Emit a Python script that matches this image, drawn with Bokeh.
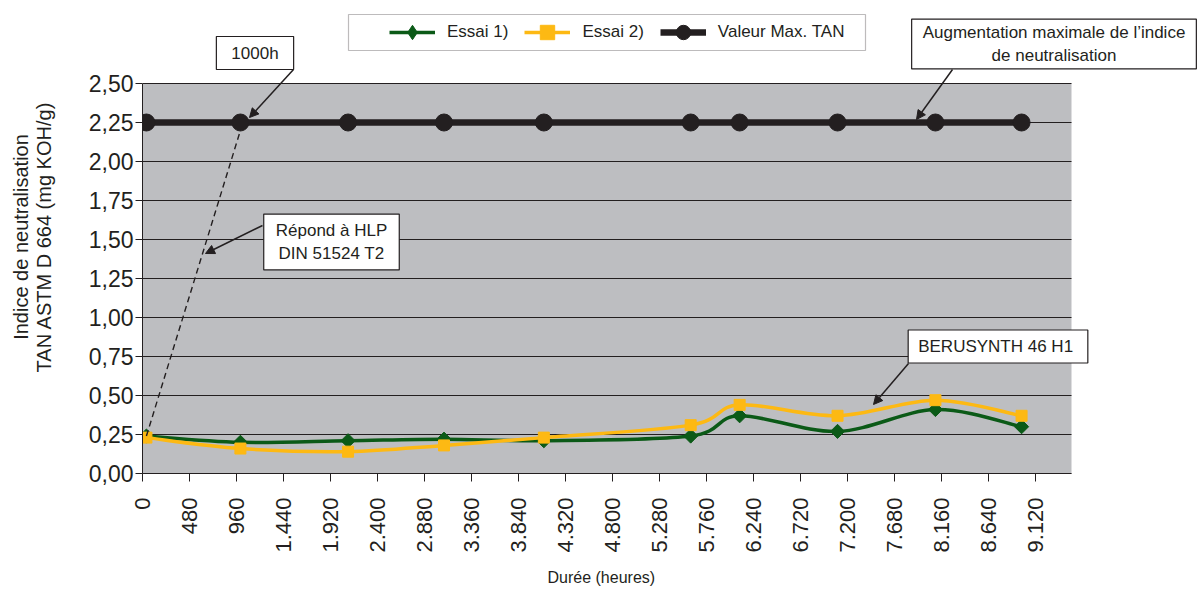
import math
from bokeh.plotting import figure
from bokeh.models import (ColumnDataSource, FixedTicker, Legend, LegendItem, Label,
                          Arrow, NormalHead, BoxAnnotation, Range1d, Title)
from bokeh.embed import file_html
from bokeh.resources import INLINE

# ---------------- data ----------------
HOURS = [40, 1000, 2100, 3080, 4100, 5600, 6100, 7100, 8100, 8980]
ESSAI_1 = [0.24, 0.20, 0.21, 0.22, 0.21, 0.24, 0.37, 0.27, 0.41, 0.30]
ESSAI_2 = [0.23, 0.16, 0.14, 0.18, 0.23, 0.31, 0.44, 0.37, 0.47, 0.37]
VALEUR_MAX = [2.25, 2.25, 2.25, 2.25, 2.25, 2.25, 2.25, 2.25, 2.25, 2.25]

SERIES_NAMES = ["Essai 1)", "Essai 2)", "Valeur Max. TAN"]

X_TICKS = [0, 480, 960, 1440, 1920, 2400, 2880, 3360, 3840, 4320, 4800,
           5280, 5760, 6240, 6720, 7200, 7680, 8160, 8640, 9120]
X_TICK_LABELS = ["0", "480", "960", "1.440", "1.920", "2.400", "2.880", "3.360",
                 "3.840", "4.320", "4.800", "5.280", "5.760", "6.240", "6.720",
                 "7.200", "7.680", "8.160", "8.640", "9.120"]
Y_TICKS = [0.0, 0.25, 0.5, 0.75, 1.0, 1.25, 1.5, 1.75, 2.0, 2.25, 2.5]
Y_TICK_LABELS = ["0,00", "0,25", "0,50", "0,75", "1,00", "1,25", "1,50",
                 "1,75", "2,00", "2,25", "2,50"]
X_AXIS_MAX = 9490
Y_AXIS_MAX = 2.5

# ---------------- layout constants ----------------
W, H = 1200, 596
FL = 142          # frame left (px)
FB = 473          # frame bottom (px)
PLOT_W = 929      # grey plot area width (px)
PLOT_H = 390      # grey plot area height (px)
PX_X = PLOT_W / X_AXIS_MAX
PX_Y = PLOT_H / Y_AXIS_MAX

INK = "#231F20"
GREEN = "#0B5A17"
YELLOW = "#FDB913"
PLOT_BG = "#BDBEC1"
FONT = "Liberation Sans"


def dx(px):
    return (px - FL) / PX_X


def dy(py):
    return (FB - py) / PX_Y


def smooth(xs, ys, t=1.0 / 6.0):
    n = len(xs)
    d = dict(x0=[], y0=[], x1=[], y1=[], cx0=[], cy0=[], cx1=[], cy1=[])
    for i in range(n - 1):
        xp, yp = (xs[i - 1], ys[i - 1]) if i > 0 else (xs[i], ys[i])
        xn, yn = (xs[i + 2], ys[i + 2]) if i + 2 < n else (xs[i + 1], ys[i + 1])
        d["x0"].append(xs[i]); d["y0"].append(ys[i])
        d["x1"].append(xs[i + 1]); d["y1"].append(ys[i + 1])
        d["cx0"].append(xs[i] + (xs[i + 1] - xp) * t)
        d["cy0"].append(ys[i] + (ys[i + 1] - yp) * t)
        d["cx1"].append(xs[i + 1] - (xn - xs[i]) * t)
        d["cy1"].append(ys[i + 1] - (yn - ys[i]) * t)
    return ColumnDataSource(d)


p = figure(width=W, height=H, output_backend="svg", toolbar_location=None,
           x_range=Range1d(0, (W - FL) / PX_X), y_range=Range1d(0, FB / PX_Y),
           min_border_left=FL, min_border_top=0,
           min_border_right=0, min_border_bottom=H - FB)
p.background_fill_color = "white"
p.border_fill_color = "white"
p.outline_line_color = None
p.xgrid.grid_line_color = None
p.ygrid.grid_line_color = None

# grey plot area
p.add_layout(BoxAnnotation(left=0, right=X_AXIS_MAX, bottom=0, top=Y_AXIS_MAX,
                           fill_color=PLOT_BG, fill_alpha=1.0, line_color=None,
                           level="underlay"))
# horizontal grid lines
p.segment(x0=[0] * len(Y_TICKS), x1=[X_AXIS_MAX] * len(Y_TICKS),
          y0=Y_TICKS, y1=Y_TICKS, line_color=INK, line_width=1)

# axes
p.xaxis.ticker = FixedTicker(ticks=X_TICKS)
p.xaxis.major_label_overrides = dict(zip(X_TICKS, X_TICK_LABELS))
p.xaxis.major_label_orientation = math.pi / 2
p.xaxis.bounds = (0, X_AXIS_MAX)
p.yaxis.ticker = FixedTicker(ticks=Y_TICKS)
p.yaxis.major_label_overrides = dict(zip(Y_TICKS, Y_TICK_LABELS))
p.yaxis.bounds = (0, Y_AXIS_MAX)
for ax in (p.xaxis, p.yaxis):
    ax.axis_line_color = INK
    ax.axis_line_width = 1
    ax.major_tick_line_color = INK
    ax.major_tick_in = 0
    ax.minor_tick_line_color = None
    ax.major_label_text_font = FONT
    ax.major_label_text_color = INK
    ax.axis_label_text_font = FONT
    ax.axis_label_text_font_style = "normal"
    ax.axis_label_text_color = INK
p.xaxis.major_tick_out = 8
p.yaxis.major_tick_out = 7
p.xaxis.major_label_text_font_size = "22px"
p.yaxis.major_label_text_font_size = "23px"
p.xaxis.major_label_standoff = 16
p.yaxis.major_label_standoff = 2
p.yaxis.axis_label = "Indice de neutralisation\nTAN ASTM D 664 (mg KOH/g)"
p.yaxis.axis_label_text_font_size = "20px"
p.yaxis.axis_label_text_line_height = 1.05
p.yaxis.axis_label_standoff = 31

# x-axis title, centred under the grey plot area
p.add_layout(Title(text="Durée (heures)", align="left", offset=547 - FL,
                   standoff=22, vertical_align="bottom", text_font=FONT,
                   text_font_size="16px", text_font_style="normal",
                   text_color=INK), "below")

# series
black_line = p.line(HOURS, VALEUR_MAX, line_color=INK, line_width=6.5)
black_pts = p.scatter(HOURS, VALEUR_MAX, marker="circle", size=17,
                      fill_color=INK, line_color=INK)

g_line = p.bezier(x0="x0", y0="y0", x1="x1", y1="y1", cx0="cx0", cy0="cy0",
                  cx1="cx1", cy1="cy1", source=smooth(HOURS, ESSAI_1),
                  line_color=GREEN, line_width=3.5)
g_pts = p.scatter(HOURS, ESSAI_1, marker="square", angle=math.pi / 4, size=10,
                  fill_color=GREEN, line_color=GREEN)
# legend-only diamond (legend markers are drawn unrotated)
g_key = p.scatter(HOURS[:1], ESSAI_1[:1], marker="diamond", size=14,
                  fill_color=GREEN, line_color=GREEN, visible=False)

y_line = p.bezier(x0="x0", y0="y0", x1="x1", y1="y1", cx0="cx0", cy0="cy0",
                  cx1="cx1", cy1="cy1", source=smooth(HOURS, ESSAI_2),
                  line_color=YELLOW, line_width=3.5)
y_pts = p.scatter(HOURS, ESSAI_2, marker="square", size=11,
                  fill_color=YELLOW, line_color=YELLOW)

# dashed guide from first test point to the 1000 h limit point
p.add_layout(Arrow(end=None, x_start=HOURS[0], y_start=ESSAI_1[0],
                   x_end=HOURS[1], y_end=dy(130),
                   line_color=INK, line_width=1.4, line_dash="6 4"))

# legend box + legend
p.add_layout(BoxAnnotation(left=dx(348), right=dx(865), top=dy(14), bottom=dy(50),
                           fill_color="white", fill_alpha=1.0,
                           line_color=INK, line_width=1.2, level="annotation"))
legend = Legend(items=[
    LegendItem(label=SERIES_NAMES[0], renderers=[g_line, g_key]),
    LegendItem(label=SERIES_NAMES[1], renderers=[y_line, y_pts]),
    LegendItem(label=SERIES_NAMES[2], renderers=[black_line, black_pts]),
], orientation="horizontal", location=(389 - FL, FB - 50),
    padding=0, margin=0, spacing=16, glyph_width=46, glyph_height=36,
    label_height=36, label_standoff=12, label_text_font=FONT,
    label_text_font_size="17px", label_text_color=INK,
    border_line_alpha=0, background_fill_alpha=0)
p.add_layout(legend)


def box_label(text, cx, cy, pad):
    p.add_layout(Label(x=dx(cx), y=dy(cy), text=text, text_align="center",
                       text_baseline="middle", text_font=FONT,
                       text_font_size="17px", text_color=INK,
                       text_line_height=1.2,
                       background_fill_color="white", border_line_color=INK,
                       border_line_width=1.2, padding=pad))


def arrow(x0, y0, x1, y1):
    p.add_layout(Arrow(x_start=dx(x0), y_start=dy(y0), x_end=dx(x1), y_end=dy(y1),
                       line_color=INK, line_width=1.5,
                       end=NormalHead(size=9, fill_color=INK, line_color=INK)))


arrow(293, 69, 249, 117)
arrow(262, 225, 205, 253)
arrow(952, 69, 916, 119)
arrow(908, 363, 873, 404)

box_label("1000h", 254.5, 52.5, (15, 7))
box_label("Répond à HLP\nDIN 51524 T2", 331, 241.5, (12, 7))
box_label("Augmentation maximale de l\u2019indice\nde neutralisation", 1053.5, 43.5, (11, 4))
box_label("BERUSYNTH 46  H1", 997.5, 346, (10, 7))

open("out.html", "w").write(file_html(p, INLINE))
